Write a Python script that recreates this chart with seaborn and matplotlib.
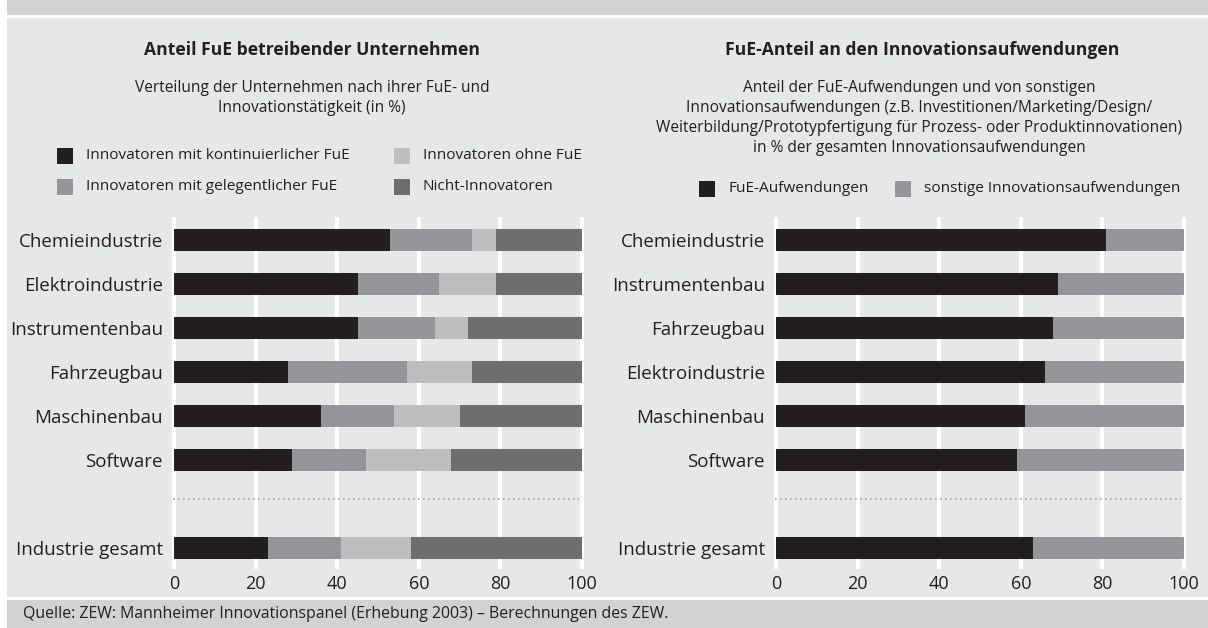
import numpy as np
import pandas as pd
import matplotlib
matplotlib.use("Agg")
import matplotlib.pyplot as plt
from matplotlib.patches import Rectangle
import seaborn as sns

# left panel: companies by R&D / innovation activity (in %)
left_cats = ["Chemieindustrie", "Elektroindustrie", "Instrumentenbau", "Fahrzeugbau",
             "Maschinenbau", "Software", "Industrie gesamt"]
kontinuierlich = [53, 45, 45, 28, 36, 29, 23]
gelegentlich = [20, 20, 19, 29, 18, 18, 18]
ohne_fue = [6, 14, 8, 16, 16, 21, 17]
nicht_innov = [21, 21, 28, 27, 30, 32, 42]
left_series = ["Innovatoren mit kontinuierlicher FuE", "Innovatoren mit gelegentlicher FuE",
               "Innovatoren ohne FuE", "Nicht-Innovatoren"]

# right panel: R&D share of innovation expenditure (in %)
right_cats = ["Chemieindustrie", "Instrumentenbau", "Fahrzeugbau", "Elektroindustrie",
              "Maschinenbau", "Software", "Industrie gesamt"]
fue_aufw = [81, 69, 68, 66, 61, 59, 63]
sonstige_aufw = [19, 31, 32, 34, 39, 41, 37]
right_series = ["FuE-Aufwendungen", "sonstige Innovationsaufwendungen"]

x_ticks = [0, 20, 40, 60, 80, 100]

C_BLACK, C_MID, C_LIGHT, C_DARK = "#231f20", "#939598", "#bcbec0", "#6d6e70"
BG_PANEL, BG_BAND = "#e6e7e8", "#d1d2d4"
TXT = "#231f20"

sns.set_style("white")
plt.rcParams["font.family"] = ["Open Sans", "DejaVu Sans"]

W, H = 1208, 628
fig = plt.figure(figsize=(W / 100, H / 100), dpi=100)
fig.patch.set_facecolor("white")


def fx(x):
    return x / W


def fy(y):
    return 1 - y / H


def rect(x0, y0, x1, y1, color):
    fig.add_artist(Rectangle((fx(x0), fy(y1)), fx(x1) - fx(x0), fy(y0) - fy(y1),
                             transform=fig.transFigure, color=color, lw=0, zorder=0))


# background bands
rect(7, 0, W, 15, BG_BAND)
rect(7, 18, W, 597, BG_PANEL)
rect(7, 600, W, H, BG_BAND)


def stacked(ax, cats, parts, colors):
    order = cats[:-1] + [" "] + cats[-1:]
    cum = np.cumsum(parts, axis=0)
    for i in range(len(parts) - 1, -1, -1):
        d = pd.DataFrame({"cat": cats, "val": cum[i]})
        sns.barplot(data=d, x="val", y="cat", order=order, color=colors[i], width=0.5,
                    errorbar=None, orient="y", saturation=1, linewidth=0, ax=ax)
    ax.set_xlim(-1, 101)
    ax.set_ylim(7.48, -0.52)
    ax.set_xticks(x_ticks)
    ax.set_xticklabels([str(t) for t in x_ticks])
    ax.xaxis.grid(True, color="white", lw=3)
    ax.yaxis.grid(False)
    ax.set_axisbelow(True)
    ax.set_facecolor("none")
    for s in ax.spines.values():
        s.set_visible(False)
    ax.tick_params(axis="both", length=0, colors=TXT)
    ax.tick_params(axis="x", pad=4, labelsize=13)
    ax.tick_params(axis="y", pad=5, labelsize=13.5)
    ax.set_xlabel("")
    ax.set_ylabel("")
    ax.axhline(5.9, xmin=0.007, xmax=0.983, color="#9d9fa2", lw=1.2, ls=(0, (1, 2)))


# axes: data 0..100 spans 408 px, xlim has 1 unit of margin each side
ax_l = fig.add_axes([fx(169.92), fy(569), fx(416.16), 352 / H])
ax_r = fig.add_axes([fx(771.92), fy(569), fx(416.16), 352 / H])

stacked(ax_l, left_cats, [kontinuierlich, gelegentlich, ohne_fue, nicht_innov],
        [C_BLACK, C_MID, C_LIGHT, C_DARK])
stacked(ax_r, right_cats, [fue_aufw, sonstige_aufw], [C_BLACK, C_MID])

# titles
fig.text(fx(312), fy(50), "Anteil FuE betreibender Unternehmen", ha="center", va="center",
         fontsize=12.6, fontweight="bold", color=TXT)
fig.text(fx(312), fy(98),
         "Verteilung der Unternehmen nach ihrer FuE- und\nInnovationstätigkeit (in %)",
         ha="center", va="center", fontsize=11.2, color=TXT, linespacing=1.32)
fig.text(fx(922), fy(50), "FuE-Anteil an den Innovationsaufwendungen", ha="center",
         va="center", fontsize=12.6, fontweight="bold", color=TXT)
fig.text(fx(919), fy(118),
         "Anteil der FuE-Aufwendungen und von sonstigen\n"
         "Innovationsaufwendungen (z.B. Investitionen/Marketing/Design/\n"
         "Weiterbildung/Prototypfertigung für Prozess- oder Produktinnovationen)\n"
         "in % der gesamten Innovationsaufwendungen",
         ha="center", va="center", fontsize=11.2, color=TXT, linespacing=1.32)


def legend_item(x_sq, y_c, color, label):
    rect(x_sq, y_c - 8, x_sq + 16, y_c + 8, color)
    fig.text(fx(x_sq + 29), fy(y_c), label, ha="left", va="center", fontsize=11.1, color=TXT)


legend_item(57, 156, C_BLACK, left_series[0])
legend_item(57, 187, C_MID, left_series[1])
legend_item(394, 156, C_LIGHT, left_series[2])
legend_item(394, 187, C_DARK, left_series[3])
legend_item(699, 189, C_BLACK, right_series[0])
legend_item(895, 189, C_MID, right_series[1])

fig.text(fx(23), fy(614),
         "Quelle: ZEW: Mannheimer Innovationspanel (Erhebung 2003) – Berechnungen des ZEW.",
         ha="left", va="center", fontsize=11.4, color=TXT)

fig.savefig("out.png", dpi=100, facecolor="white")
